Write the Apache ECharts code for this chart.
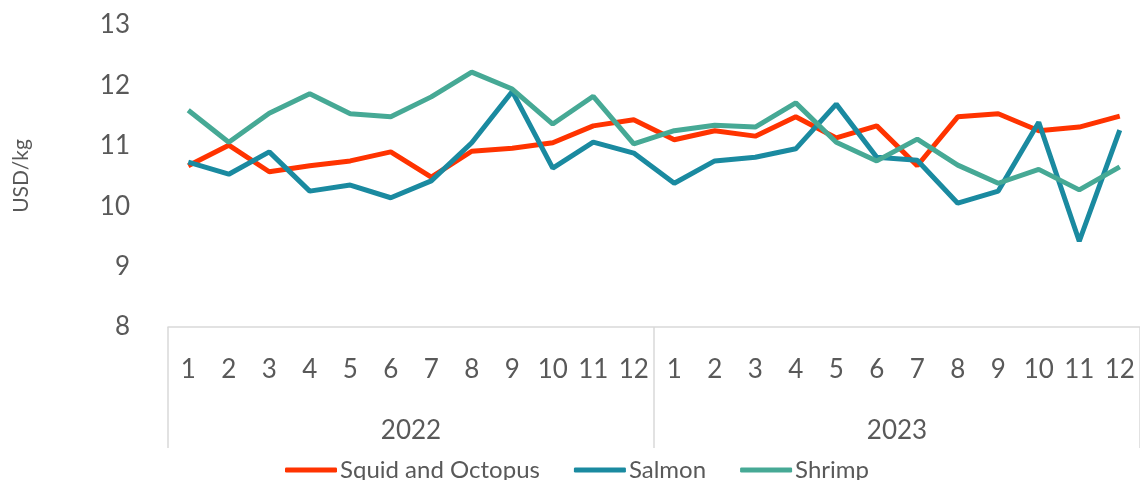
<!DOCTYPE html>
<html>
<head>
<meta charset="utf-8">
<script src="https://cdn.jsdelivr.net/npm/echarts@6/dist/echarts.min.js"></script>
<style>
html,body{margin:0;padding:0;background:#fff;}
#chart{width:1140px;height:480px;}
</style>
</head>
<body>
<div id="chart"></div>
<script>
const months = ['1','2','3','4','5','6','7','8','9','10','11','12','1','2','3','4','5','6','7','8','9','10','11','12'];
const years = ['2022','2023'];
const yTicks = {min: 8, max: 13, interval: 1};
const squidOctopus = [10.67,11.01,10.57,10.67,10.75,10.90,10.48,10.91,10.96,11.05,11.33,11.43,
                      11.10,11.25,11.16,11.48,11.13,11.33,10.67,11.48,11.53,11.25,11.31,11.49];
const salmon = [10.73,10.53,10.90,10.25,10.35,10.14,10.42,11.05,11.90,10.63,11.06,10.88,
                10.38,10.75,10.81,10.95,11.69,10.81,10.76,10.05,10.25,11.39,9.42,11.26];
const shrimp = [11.59,11.06,11.54,11.86,11.53,11.48,11.81,12.22,11.94,11.36,11.82,11.03,
                11.25,11.34,11.31,11.71,11.06,10.75,11.11,10.68,10.38,10.61,10.27,10.65];
const seriesNames = ['Squid and Octopus','Salmon','Shrimp'];
const colors = ['#FF3300','#1A8AA0','#46A995'];

const FONT = 'Lato, "Open Sans", sans-serif';
const chart = echarts.init(document.getElementById('chart'), null, {renderer:'canvas'});
chart.setOption({
  animation: false,
  color: colors,
  grid: {left: 168, right: 0, top: 25, bottom: 153, containLabel: false},
  legend: {
    data: seriesNames,
    left: 280, top: 453,
    icon: 'roundRect',
    itemWidth: 52, itemHeight: 5, itemGap: 34,
    textStyle: {fontFamily: FONT, fontSize: 24, color: '#595959', padding: [0,0,0,-2]}
  },
  xAxis: [
    {
      type: 'category', data: months, position: 'bottom',
      axisLine: {show: true, lineStyle: {color: '#D9D9D9', width: 1.5}},
      axisTick: {show: false},
      axisLabel: {interval: 0, margin: 30, fontFamily: FONT, fontSize: 26, color: '#595959'}
    },
    {
      type: 'category', data: years, position: 'bottom', gridIndex: 0,
      axisLine: {show: false},
      axisTick: {show: true, length: 121, lineStyle: {color: '#D9D9D9', width: 1.5}},
      axisLabel: {interval: 0, margin: 91, fontFamily: FONT, fontSize: 26, color: '#595959'}
    }
  ],
  yAxis: {
    type: 'value', min: yTicks.min, max: yTicks.max, interval: yTicks.interval,
    name: 'USD/kg', nameLocation: 'middle', nameGap: 136, nameRotate: 90,
    nameTextStyle: {fontFamily: FONT, fontSize: 21, color: '#595959'},
    axisLine: {show: false}, axisTick: {show: false}, splitLine: {show: false},
    axisLabel: {margin: 38, fontFamily: FONT, fontSize: 26, color: '#595959'}
  },
  series: [
    {name: seriesNames[0], type: 'line', data: squidOctopus, symbol: 'none', lineStyle: {width: 5}, z: 3},
    {name: seriesNames[1], type: 'line', data: salmon, symbol: 'none', lineStyle: {width: 5}, z: 4},
    {name: seriesNames[2], type: 'line', data: shrimp, symbol: 'none', lineStyle: {width: 5}, z: 5}
  ]
});
</script>
</body>
</html>
